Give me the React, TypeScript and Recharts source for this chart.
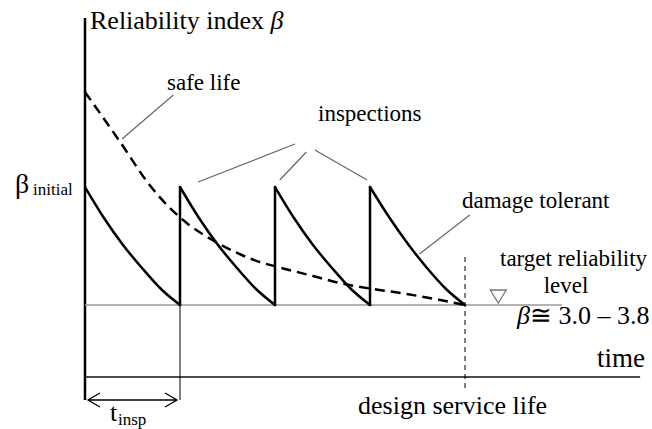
import React from 'react'
import {
  ComposedChart, Line, XAxis, YAxis, ReferenceLine, ReferenceDot, Customized,
} from 'recharts'

// time in inspection intervals, beta in arbitrary chart units (0 = time axis)
const segTimes = [
  [0, 0.2, 0.4, 0.6, 0.8, 1],
  [1, 1.2, 1.4, 1.6, 1.8, 2],
  [2, 2.2, 2.4, 2.6, 2.8, 3],
  [3, 3.2, 3.4, 3.6, 3.8, 4],
]
const segBetas = [
  [19, 15.9, 13.2, 10.9, 8.8, 7.2],
  [19, 15.9, 13.2, 10.9, 8.8, 7.2],
  [19, 15.9, 13.2, 10.9, 8.8, 7.2],
  [19, 16.0, 13.3, 10.9, 8.8, 7.2],
]
const slTime = [0, 0.37, 0.68, 1.07, 1.34, 1.58, 1.84, 2.03, 2.4, 2.68, 3.03, 3.32, 3.74, 4]
const slBeta = [28.5, 23.5, 19.2, 15.4, 13.7, 12.5, 11.5, 11.0, 10.1, 9.4, 8.8, 8.4, 7.7, 7.2]

const inspectTimes = [1, 2, 3]
const betaInitial = 19
const targetBeta = 7.2
const designLife = 4
const tInsp = 1
const xMax = 5.863

const segData = segTimes.map((ts, s) => ts.map((t, i) => ({ t, b: segBetas[s][i] })))
const safeData = slTime.map((t, i) => ({ t, b: slBeta[i] }))

const serif = 'Liberation Serif, Times New Roman, serif'
const lead = '#666'

const T = ({ x, y, size, anchor, children }: any) => (
  <text x={x} y={y} textAnchor={anchor || 'start'} fontFamily={serif}
    style={{ fontFamily: serif, fontSize: size, fill: '#000' }}>
    {children}
  </text>
)

const Labels = () => (
  <g>
    <T x={90} y={29} size={26}>
      Reliability index <tspan style={{ fontStyle: 'italic' }}>β</tspan>
    </T>
    <T x={167} y={90} size={23}>safe life</T>
    <T x={318} y={121} size={23}>inspections</T>
    <T x={462} y={208} size={23}>damage tolerant</T>
    <T x={15} y={193} size={28}>β</T>
    <T x={33} y={195} size={17}>initial</T>
    <T x={500} y={266} size={23}>target reliability</T>
    <T x={566} y={293} size={23} anchor="middle">level</T>
    <T x={517} y={324} size={26}>
      <tspan style={{ fontStyle: 'italic' }}>β</tspan>≅ 3.0 – 3.8
    </T>
    <T x={597} y={367} size={27}>time</T>
    <T x={358} y={414} size={26}>design service life</T>
    <T x={110} y={421} size={26}>t</T>
    <T x={118} y={425} size={17}>insp</T>
    <path d="M100,393 L88,400 L100,407 M165,393 L177,400 L165,407 M88,400 L177,400"
      stroke="#000" strokeWidth={1.3} fill="none" />
  </g>
)

const Triangle = (props: any) => {
  const { cx, cy } = props
  return (
    <path d={`M${cx - 8},${cy - 6} L${cx + 8},${cy - 6} L${cx},${cy + 7} Z`}
      fill="none" stroke="#777" strokeWidth={1.3} />
  )
}

export default function App() {
  return (
    <div style={{ position: 'absolute', left: 0, top: 0, background: '#fff', fontFamily: serif }}>
      <ComposedChart width={652} height={429} margin={{ top: 18, right: 10, bottom: 0, left: 85 }}>
        <XAxis type="number" dataKey="t" domain={[0, xMax]} hide allowDataOverflow />
        <YAxis type="number" domain={[-5.2, 35.9]} hide allowDataOverflow />

        {/* axes */}
        <ReferenceLine segment={[{ x: 0, y: 35.9 }, { x: 0, y: -2.3 }]} stroke="#000" strokeWidth={2.5} />
        <ReferenceLine segment={[{ x: 0, y: 0 }, { x: xMax - 0.02, y: 0 }]} stroke="#111" strokeWidth={1.6} />
        <ReferenceLine segment={[{ x: 0, y: targetBeta }, { x: 5.02, y: targetBeta }]} stroke="#999" strokeWidth={1.6} />
        <ReferenceLine segment={[{ x: tInsp, y: targetBeta }, { x: tInsp, y: -2.3 }]} stroke="#000" strokeWidth={1} />
        <ReferenceLine segment={[{ x: designLife, y: 12.0 }, { x: designLife, y: -1.3 }]}
          stroke="#000" strokeWidth={1} strokeDasharray="5 4" />

        {/* leader lines */}
        <ReferenceLine segment={[{ x: 0.39, y: 23.8 }, { x: 0.93, y: 28.2 }]} stroke={lead} strokeWidth={1.2} ifOverflow="visible" />
        <ReferenceLine segment={[{ x: 1.19, y: 19.5 }, { x: 2.21, y: 23.3 }]} stroke={lead} strokeWidth={1.2} ifOverflow="visible" />
        <ReferenceLine segment={[{ x: 2.05, y: 19.7 }, { x: 2.33, y: 22.5 }]} stroke={lead} strokeWidth={1.2} ifOverflow="visible" />
        <ReferenceLine segment={[{ x: 2.42, y: 22.7 }, { x: 2.97, y: 19.7 }]} stroke={lead} strokeWidth={1.2} ifOverflow="visible" />
        <ReferenceLine segment={[{ x: 3.52, y: 12.3 }, { x: 4.05, y: 16.2 }]} stroke={lead} strokeWidth={1.2} ifOverflow="visible" />

        <Line data={safeData} dataKey="b" type="monotone" stroke="#000" strokeWidth={2.5}
          strokeDasharray="10 6" dot={false} isAnimationActive={false} />

        {/* damage tolerant: decay after each repair, jump back at inspections */}
        {inspectTimes.map((t) => (
          <ReferenceLine key={t} segment={[{ x: t, y: targetBeta }, { x: t, y: betaInitial }]}
            stroke="#000" strokeWidth={2.5} strokeLinecap="round" />
        ))}
        {segData.map((d, i) => (
          <Line key={i} data={d} dataKey="b" type="monotone" stroke="#000" strokeWidth={2.5}
            strokeLinecap="round" dot={false} isAnimationActive={false} />
        ))}

        <ReferenceDot x={4.35} y={8.1} r={0} shape={Triangle} ifOverflow="visible" />
        <Customized component={Labels} />
      </ComposedChart>
    </div>
  )
}
